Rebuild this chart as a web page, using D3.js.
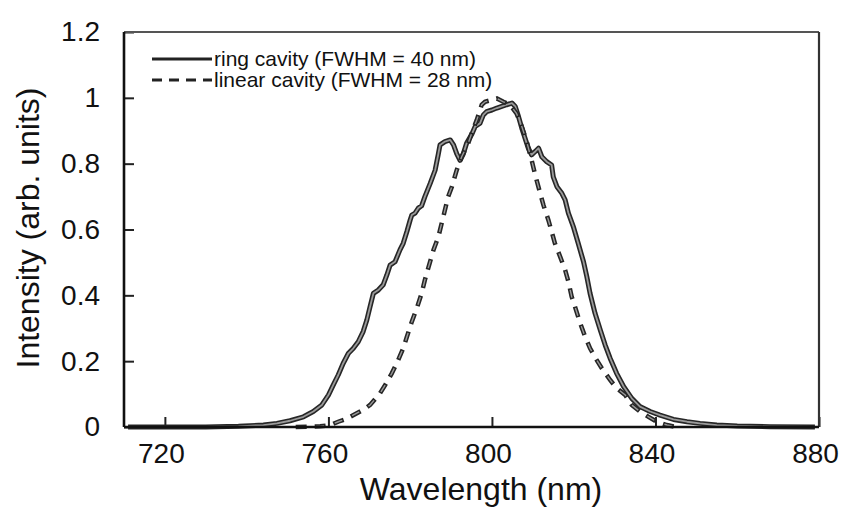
<!DOCTYPE html>
<html>
<head>
<meta charset="utf-8">
<script src="https://cdn.jsdelivr.net/npm/d3@7"></script>
<style>
  body { margin: 0; background: #fff; }
  svg text { font-family: "Liberation Sans", Arial, Helvetica, sans-serif; fill: #111; }
</style>
</head>
<body>
<div id="chart"></div>
<script>
// ring cavity spectrum (solid)
const ringWl = [711, 720, 730, 738, 744.1, 747.4, 750.6, 753.9, 756.3, 758.4, 760, 761.2, 762.4, 763.6, 764.9,
  766.1, 767.3, 768.5, 769.4, 770.2, 771, 772.2, 773.4, 774.3, 775.1, 776.3, 777.5, 778.3, 779.2, 780, 780.4,
  781.2, 782, 782.8, 783.6, 784.9, 786.1, 786.9, 787.3, 788.5, 789.8, 790.6, 791.4, 792.2, 793, 793.8, 795.1,
  795.9, 797.1, 797.9, 798.7, 800, 801.2, 802.4, 803.6, 804.9, 805.7, 806.5, 807.3, 808.1, 808.9, 809.7, 810.6,
  811.4, 812.2, 813.4, 814.6, 815, 815.9, 817.1, 817.9, 818.7, 819.9, 821.1, 822.4, 823.2, 824, 825.2, 826.5,
  827.7, 828.9, 830.5, 832.2, 834.2, 836.2, 838.7, 841.1, 844.4, 847.7, 850.9, 855, 860, 868, 879];
const ringI = [0, 0, 0, 0.002, 0.006, 0.011, 0.019, 0.031, 0.047, 0.067, 0.097, 0.128, 0.158, 0.193, 0.224,
  0.239, 0.259, 0.29, 0.325, 0.366, 0.406, 0.416, 0.432, 0.462, 0.492, 0.502, 0.538, 0.558, 0.594, 0.629, 0.644,
  0.65, 0.665, 0.672, 0.70, 0.74, 0.78, 0.83, 0.857, 0.867, 0.872, 0.857, 0.83, 0.81, 0.83, 0.862, 0.89,
  0.913, 0.923, 0.948, 0.958, 0.963, 0.969, 0.974, 0.979, 0.984, 0.974, 0.943, 0.908, 0.877, 0.847, 0.827, 0.837,
  0.847, 0.821, 0.806, 0.796, 0.76, 0.73, 0.71, 0.69, 0.65, 0.609, 0.558, 0.502, 0.457, 0.406, 0.346, 0.295,
  0.249, 0.209, 0.163, 0.123, 0.087, 0.062, 0.047, 0.036, 0.023, 0.016, 0.011, 0.006, 0.003, 0.001, 0];

// linear cavity spectrum (dashed)
const linWl = [752, 758, 760.5, 762.4, 764.1, 768.5, 770.2, 772.6, 773.9, 775.5, 776.7, 778.3, 779.2, 780.4,
  781.6, 782.8, 783.6, 784.4, 785.7, 786.9, 788.1, 789.3, 790.2, 791.4, 792.6, 794.2, 795.5, 796.3, 797.5,
  798.3, 801.2, 802.8, 804.4, 806, 807.3, 808.5, 809.7, 810.6, 811.8, 812.6, 813.8, 814.6, 815.4, 816.7,
  817.9, 818.7, 819.5, 820.3, 821.6, 822.8, 824, 825.6, 826.9, 828.9, 830.5, 832.6, 834.2, 836.2, 838.3,
  840.3, 842.8, 845];
const linI = [0, 0.002, 0.006, 0.016, 0.023, 0.052, 0.067, 0.102, 0.128, 0.163, 0.193, 0.239, 0.274, 0.32,
  0.36, 0.406, 0.447, 0.482, 0.538, 0.578, 0.639, 0.70, 0.73, 0.781, 0.821, 0.862, 0.908, 0.933, 0.979,
  0.988, 0.998, 0.988, 0.979, 0.953, 0.913, 0.867, 0.811, 0.765, 0.71, 0.674, 0.629, 0.594, 0.558, 0.517,
  0.477, 0.442, 0.396, 0.366, 0.315, 0.274, 0.239, 0.204, 0.178, 0.143, 0.118, 0.097, 0.067, 0.047, 0.031,
  0.016, 0.006, 0];

const xTicks = [720, 760, 800, 840, 880];
const yTicks = [0, 0.2, 0.4, 0.6, 0.8, 1, 1.2];
const yTickLabels = ['0', '0.2', '0.4', '0.6', '0.8', '1', '1.2'];
const legendLabels = ['ring cavity (FWHM = 40 nm)', 'linear cavity (FWHM = 28 nm)'];

const W = 843, H = 517;
const margin = { top: 32, right: 24, bottom: 90, left: 124 };
const width = W - margin.left - margin.right;
const height = H - margin.top - margin.bottom;

const svg = d3.select('#chart').append('svg')
  .attr('width', W).attr('height', H);
const g = svg.append('g').attr('transform', `translate(${margin.left},${margin.top})`);

const x = d3.scaleLinear().domain([710, 880]).range([0, width]);
const y = d3.scaleLinear().domain([0, 1.2]).range([height, 0]);

// axes with inward ticks
const xAxis = g.append('g')
  .attr('transform', `translate(0,${height})`)
  .call(d3.axisBottom(x).tickValues(xTicks).tickSize(-10).tickPadding(16).tickFormat(d3.format('d')));
xAxis.selectAll('text').attr('dx', -4).style('font-size', '28px');

const yAxis = g.append('g')
  .call(d3.axisLeft(y).tickValues(yTicks).tickSize(-10).tickPadding(24)
    .tickFormat((d, i) => yTickLabels[i]));
yAxis.selectAll('text').style('font-size', '28px');

[xAxis, yAxis].forEach(a => {
  a.select('.domain').remove();
  a.selectAll('line').attr('stroke', '#222').attr('stroke-width', 2);
});

// frame
g.append('line').attr('x1', 0).attr('x2', width).attr('y1', 0).attr('y2', 0)
  .attr('stroke', '#555').attr('stroke-width', 2);
g.append('line').attr('x1', width).attr('x2', width).attr('y1', 0).attr('y2', height)
  .attr('stroke', '#333').attr('stroke-width', 2.2);

// curves
const line = d3.line().x(d => x(d[0])).y(d => y(d[1]));
const ring = ringWl.map((w, i) => [w, ringI[i]]);
const lin = linWl.map((w, i) => [w, linI[i]]);

g.append('path').datum(ring).attr('d', line)
  .attr('fill', 'none').attr('stroke', '#262626').attr('stroke-width', 5).attr('stroke-linejoin', 'round');
g.append('path').datum(ring).attr('d', line)
  .attr('fill', 'none').attr('stroke', '#9a9a9a').attr('stroke-width', 1.8).attr('stroke-linejoin', 'round');

g.append('path').datum(lin).attr('d', line)
  .attr('fill', 'none').attr('stroke', '#262626').attr('stroke-width', 4.5)
  .attr('stroke-dasharray', '11,8');
g.append('path').datum(lin).attr('d', line)
  .attr('fill', 'none').attr('stroke', '#9a9a9a').attr('stroke-width', 1.4)
  .attr('stroke-dasharray', '0,1.5,8,9.5');

// axis lines (left and bottom thicker)
g.append('line').attr('x1', 0).attr('x2', 0).attr('y1', 0).attr('y2', height)
  .attr('stroke', '#111').attr('stroke-width', 2.6);
g.append('line').attr('x1', 0).attr('x2', width).attr('y1', height).attr('y2', height)
  .attr('stroke', '#111').attr('stroke-width', 2.6);

// legend
const lg = svg.append('g');
legendLabels.forEach((t, i) => {
  const ly = 59 + i * 21;
  lg.append('line').attr('x1', 152).attr('x2', 212).attr('y1', ly).attr('y2', ly)
    .attr('stroke', '#222').attr('stroke-width', 3)
    .attr('stroke-dasharray', i === 1 ? '10,7' : null);
  lg.append('text').attr('x', 214).attr('y', ly + 6.5)
    .style('font-size', '21px').text(t);
});

// axis titles
svg.append('text').attr('x', 481).attr('y', 500)
  .attr('text-anchor', 'middle').style('font-size', '32px').text('Wavelength (nm)');
svg.append('text').attr('transform', 'translate(39,228) rotate(-90)')
  .attr('text-anchor', 'middle').style('font-size', '32px').text('Intensity (arb. units)');
</script>
</body>
</html>
